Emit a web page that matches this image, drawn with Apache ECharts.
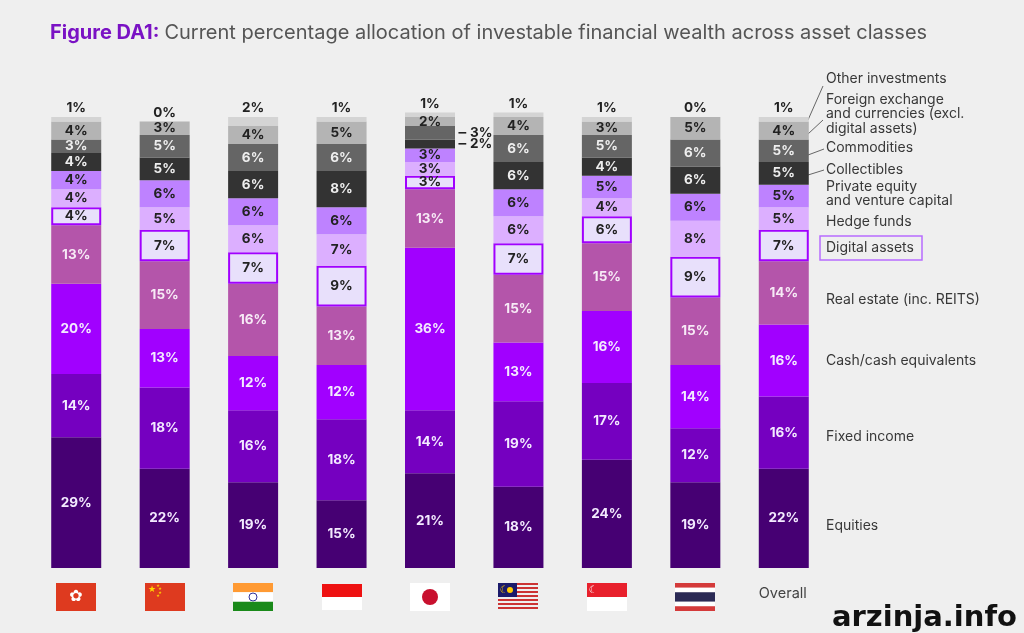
<!DOCTYPE html>
<html><head><meta charset="utf-8">
<script src="https://cdn.jsdelivr.net/npm/echarts@6/dist/echarts.min.js"></script>
<style>html,body{margin:0;padding:0;background:#efefef}#c{width:1024px;height:633px}</style>
</head><body><div id="c"></div>
<script>
// ---- data ----
const categories = ['Hong Kong','China','India','Indonesia','Japan','Malaysia','Singapore','Thailand','Overall'];
const seriesNames = ['Equities','Fixed income','Cash/cash equivalents','Real estate (inc. REITS)','Digital assets','Hedge funds','Private equity and venture capital','Collectibles','Commodities','Foreign exchange and currencies (excl. digital assets)','Other investments'];
const equities     = [29,22,19,15,21,18,24,19,22];
const fixedIncome  = [14,18,16,18,14,19,17,12,16];
const cash         = [20,13,12,12,36,13,16,14,16];
const realEstate   = [13,15,16,13,13,15,15,15,14];
const digital      = [4,7,7,9,3,7,6,9,7];
const hedge        = [4,5,6,7,3,6,4,8,5];
const privateEq    = [4,6,6,6,3,6,5,6,5];
const collectibles = [4,5,6,8,2,6,4,6,5];
const commodities  = [3,5,6,6,3,6,5,6,5];
const fx           = [4,3,4,5,2,4,3,5,4];
const other        = [1,0,2,1,1,1,1,0,1];

const FONT = 'Inter, "Open Sans", sans-serif';
const chart = echarts.init(document.getElementById('c'));

function mk(name, data, color, labelColor, opts) {
  opts = opts || {};
  return {
    name: name, type: 'bar', stack: 'all', barWidth: 50, clip: false,
    data: data.map((v, i) => {
      const item = { value: v };
      if (opts.sideIdx && opts.sideIdx.indexOf(i) >= 0) {
        item.label = { position: 'right', distance: 3, color: '#222', formatter: '\u2012 {c}%' };
      }
      return item;
    }),
    itemStyle: Object.assign({ color: color }, opts.itemStyle || {}),
    label: {
      show: true, position: opts.pos || 'inside', distance: 2,
      formatter: '{c}%', color: labelColor,
      fontFamily: FONT, fontWeight: 'bold', fontSize: 13.5
    },
    emphasis: { disabled: true }
  };
}

const series = [
  mk(seriesNames[0], equities, '#460073', '#f3eaff'),
  mk(seriesNames[1], fixedIncome, '#7500c0', '#f3eaff'),
  mk(seriesNames[2], cash, '#a100ff', '#f3eaff'),
  mk(seriesNames[3], realEstate, '#b455aa', '#f7eaf6'),
  mk(seriesNames[4], digital, '#e8e0fb', '#222', { itemStyle: { borderColor: '#a100ff', borderWidth: 2 } }),
  mk(seriesNames[5], hedge, '#dcafff', '#222'),
  mk(seriesNames[6], privateEq, '#be82ff', '#222'),
  mk(seriesNames[7], collectibles, '#333333', '#eeeeee', { sideIdx: [4] }),
  mk(seriesNames[8], commodities, '#656565', '#eeeeee', { sideIdx: [4] }),
  mk(seriesNames[9], fx, '#b4b4b4', '#222'),
  mk(seriesNames[10], other, '#d4d4d4', '#222', { pos: 'top' })
];

chart.setOption({
  backgroundColor: '#efefef',
  animation: false,
  title: {
    left: 45, top: 18,
    text: '{a|Figure DA1:} {b|Current percentage allocation of investable financial wealth across asset classes}',
    textStyle: {
      rich: {
        a: { fontFamily: FONT, fontWeight: 'bold', fontSize: 20, color: '#7a12c4' },
        b: { fontFamily: FONT, fontWeight: 'normal', fontSize: 20, color: '#555555' }
      }
    }
  },
  grid: { left: 32, right: 196, top: 117, bottom: 65 },
  xAxis: { type: 'category', data: categories, show: false },
  yAxis: { type: 'value', min: 0, max: 100, show: false },
  series: series
});

// ---- annotations: legend labels & flags ----
const g = [];
const txt = (x, y, s, extra) => g.push(Object.assign({ type: 'text', x: x, y: y, style: Object.assign({ text: s, fill: '#383838', font: '14px ' + FONT, textVerticalAlign: 'middle' }, extra || {}) }));
const line = (x1, y1, x2, y2) => g.push({ type: 'line', shape: { x1: x1, y1: y1, x2: x2, y2: y2 }, style: { stroke: '#666', lineWidth: 1 } });

txt(826, 79, 'Other investments');
txt(826, 100, 'Foreign exchange');
txt(826, 114, 'and currencies (excl.');
txt(826, 129, 'digital assets)');
txt(826, 148, 'Commodities');
txt(826, 170, 'Collectibles');
txt(826, 187, 'Private equity');
txt(826, 201, 'and venture capital');
txt(826, 222, 'Hedge funds');
g.push({ type: 'rect', shape: { x: 820, y: 236, width: 102, height: 24 }, style: { fill: 'none', stroke: '#b86cff', lineWidth: 1.5 } });
txt(826, 248, 'Digital assets');
txt(826, 300, 'Real estate (inc. REITS)');
txt(826, 361, 'Cash/cash equivalents');
txt(826, 437, 'Fixed income');
txt(826, 526, 'Equities');
line(808, 120, 823, 86);
line(808, 134, 823, 120);
line(808, 155, 824, 149);
line(808, 175, 824, 170);

// x-centers from the category scale
const cx = categories.map((c, i) => chart.convertToPixel({ xAxisIndex: 0 }, i));
txt(cx[8] - 25, 594, 'Overall', { font: '14.5px ' + FONT, fill: '#444' });

function flag(i) {
  const w = 40, h = 28, x = Math.round(cx[i] - w / 2), y = 583;
  const R = (xx, yy, ww, hh, f) => g.push({ type: 'rect', shape: { x: xx, y: yy, width: ww, height: hh }, style: { fill: f } });
  const C = (xx, yy, r, f, st) => g.push({ type: 'circle', shape: { cx: xx, cy: yy, r: r }, style: st ? { fill: 'none', stroke: st, lineWidth: 1 } : { fill: f } });
  const T = (xx, yy, s, f, fs) => g.push({ type: 'text', x: xx, y: yy, style: { text: s, fill: f, font: fs + 'px "DejaVu Sans"', textAlign: 'center', textVerticalAlign: 'middle' } });
  switch (i) {
    case 0: R(x, y, w, h, '#de3a1f'); T(x + w / 2, y + h / 2, '\u273F', '#fff', 16); break;
    case 1: R(x, y, w, h, '#de3a1f'); T(x + 7, y + 7, '\u2605', '#ffd800', 9);
      T(x + 13, y + 3, '\u2605', '#ffd800', 4); T(x + 15, y + 6, '\u2605', '#ffd800', 4); T(x + 15, y + 10, '\u2605', '#ffd800', 4); T(x + 13, y + 13, '\u2605', '#ffd800', 4); break;
    case 2: R(x, y, w, h / 3, '#ff9a33'); R(x, y + h / 3, w, h / 3, '#ffffff'); R(x, y + 2 * h / 3, w, h / 3, '#1a8a1a'); C(x + w / 2, y + h / 2, 4, null, '#33339a'); break;
    case 3: R(x, y + 1, w, h / 2 - 1, '#ee1111'); R(x, y + h / 2, w, h / 2 - 1, '#ffffff'); break;
    case 4: R(x, y, w, h, '#ffffff'); C(x + w / 2, y + h / 2, 8, '#c8102e'); break;
    case 5:
      for (let k = 0; k < 7; k++) { R(x, y + k * 4, w, 2, '#cc3333'); }
      R(x, y, 19, 14, '#1b1b6b'); T(x + 6, y + 7, '\u263E', '#ffcc00', 10); C(x + 12, y + 7, 3, '#ffcc00'); break;
    case 6: R(x, y, w, h / 2, '#e8202c'); R(x, y + h / 2, w, h / 2, '#ffffff'); T(x + 6, y + 7, '\u263E', '#fff', 10); break;
    case 7: R(x, y, w, h / 6, '#d43a3a'); R(x, y + h / 6, w, h / 6, '#ffffff'); R(x, y + h / 3, w, h / 3, '#2b2a55');
      R(x, y + 2 * h / 3, w, h / 6, '#ffffff'); R(x, y + 5 * h / 6, w, h / 6, '#d43a3a'); break;
  }
}
for (let i = 0; i < 8; i++) flag(i);

g.push({ type: 'text', x: 832, y: 618, style: { text: 'arzinja.info', fill: '#111', font: 'bold 29px "DejaVu Sans"', textVerticalAlign: 'middle' } });

chart.setOption({ graphic: g });
</script>
</body></html>
